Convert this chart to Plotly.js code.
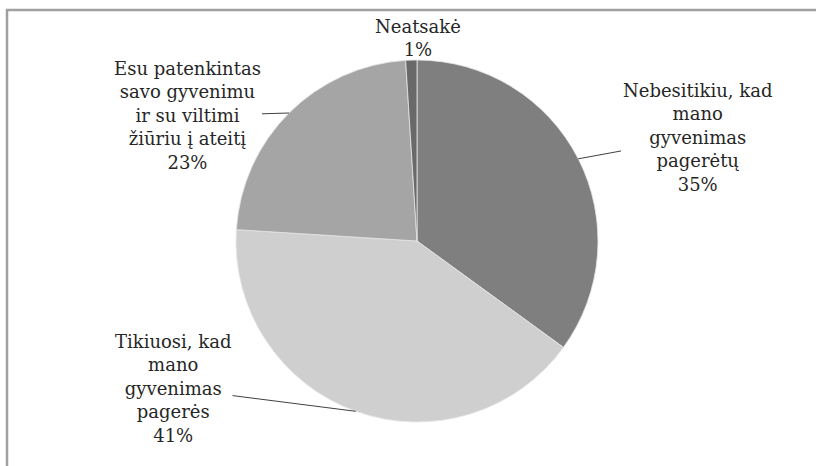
<!DOCTYPE html>
<html>
<head>
<meta charset="utf-8">
<script src="https://cdn.plot.ly/plotly-3.0.1.min.js"></script>
<style>html,body{margin:0;padding:0;background:#fff;}#chart{width:816px;height:466px;}</style>
</head>
<body>
<div id="chart"></div>
<script>
// Data
var categories = [
  "Nebesitikiu, kad<br>mano<br>gyvenimas<br>pagerėtų",
  "Tikiuosi, kad<br>mano<br>gyvenimas<br>pagerės",
  "Esu patenkintas<br>savo gyvenimu<br>ir su viltimi<br>žiūriu į ateitį",
  "Neatsakė"
];
var values = [35, 41, 23, 1];
var sliceColors = ["#7f7f7f", "#cfcfcf", "#a5a5a5", "#696969"];

// Layout geometry (pixels)
var W = 816, H = 466;
var cx = 417, cy = 241, R = 181;
// label text centres (px) and whether a leader line is drawn
var labelPos = [[697, 137, true], [173, 388, true], [187, 116, true], [418, 38, false]];
var FONT = {family: "DejaVu Serif", size: 18, color: "#262626"};

var total = values.reduce(function(a, b){ return a + b; }, 0);
var annotations = [];
var cum = 0;
for (var i = 0; i < values.length; i++) {
  var mid = (cum + values[i] / 2) / total * 2 * Math.PI;
  cum += values[i];
  var hx = cx + R * Math.sin(mid), hy = cy - R * Math.cos(mid);
  var txt = categories[i] + "<br>" + Math.round(values[i] / total * 100) + "%";
  var lp = labelPos[i];
  if (lp[2]) {
    annotations.push({
      xref: "paper", yref: "paper",
      x: hx / W, y: 1 - hy / H,
      ax: lp[0] - hx, ay: lp[1] - hy,
      axref: "pixel", ayref: "pixel",
      text: txt, showarrow: true, arrowhead: 0, arrowwidth: 1,
      arrowcolor: "#404040", align: "center",
      font: FONT
    });
  } else {
    annotations.push({
      xref: "paper", yref: "paper",
      x: lp[0] / W, y: 1 - lp[1] / H, xanchor: "center", yanchor: "middle",
      text: txt, showarrow: false, align: "center",
      font: FONT
    });
  }
}

var trace = {
  type: "pie",
  labels: categories,
  values: values,
  sort: false,
  direction: "clockwise",
  rotation: 0,
  textinfo: "none",
  hoverinfo: "skip",
  marker: {colors: sliceColors, line: {color: "rgba(230,230,230,0.8)", width: 1}},
  domain: {x: [(cx - R) / W, (cx + R) / W], y: [(H - cy - R) / H, (H - cy + R) / H]},
  showlegend: false
};

var layout = {
  width: W, height: H,
  margin: {l: 0, r: 0, t: 0, b: 0},
  paper_bgcolor: "#ffffff",
  showlegend: false,
  font: {family: FONT.family},
  annotations: annotations,
  shapes: [{
    type: "rect", xref: "paper", yref: "paper",
    x0: 7 / W, y0: 1 - 10 / H, x1: 1.05, y1: -0.05,
    line: {color: "#a0a0a0", width: 2.5}, fillcolor: "rgba(0,0,0,0)"
  }]
};

Plotly.newPlot("chart", [trace], layout, {staticPlot: true, displayModeBar: false});
</script>
</body>
</html>
